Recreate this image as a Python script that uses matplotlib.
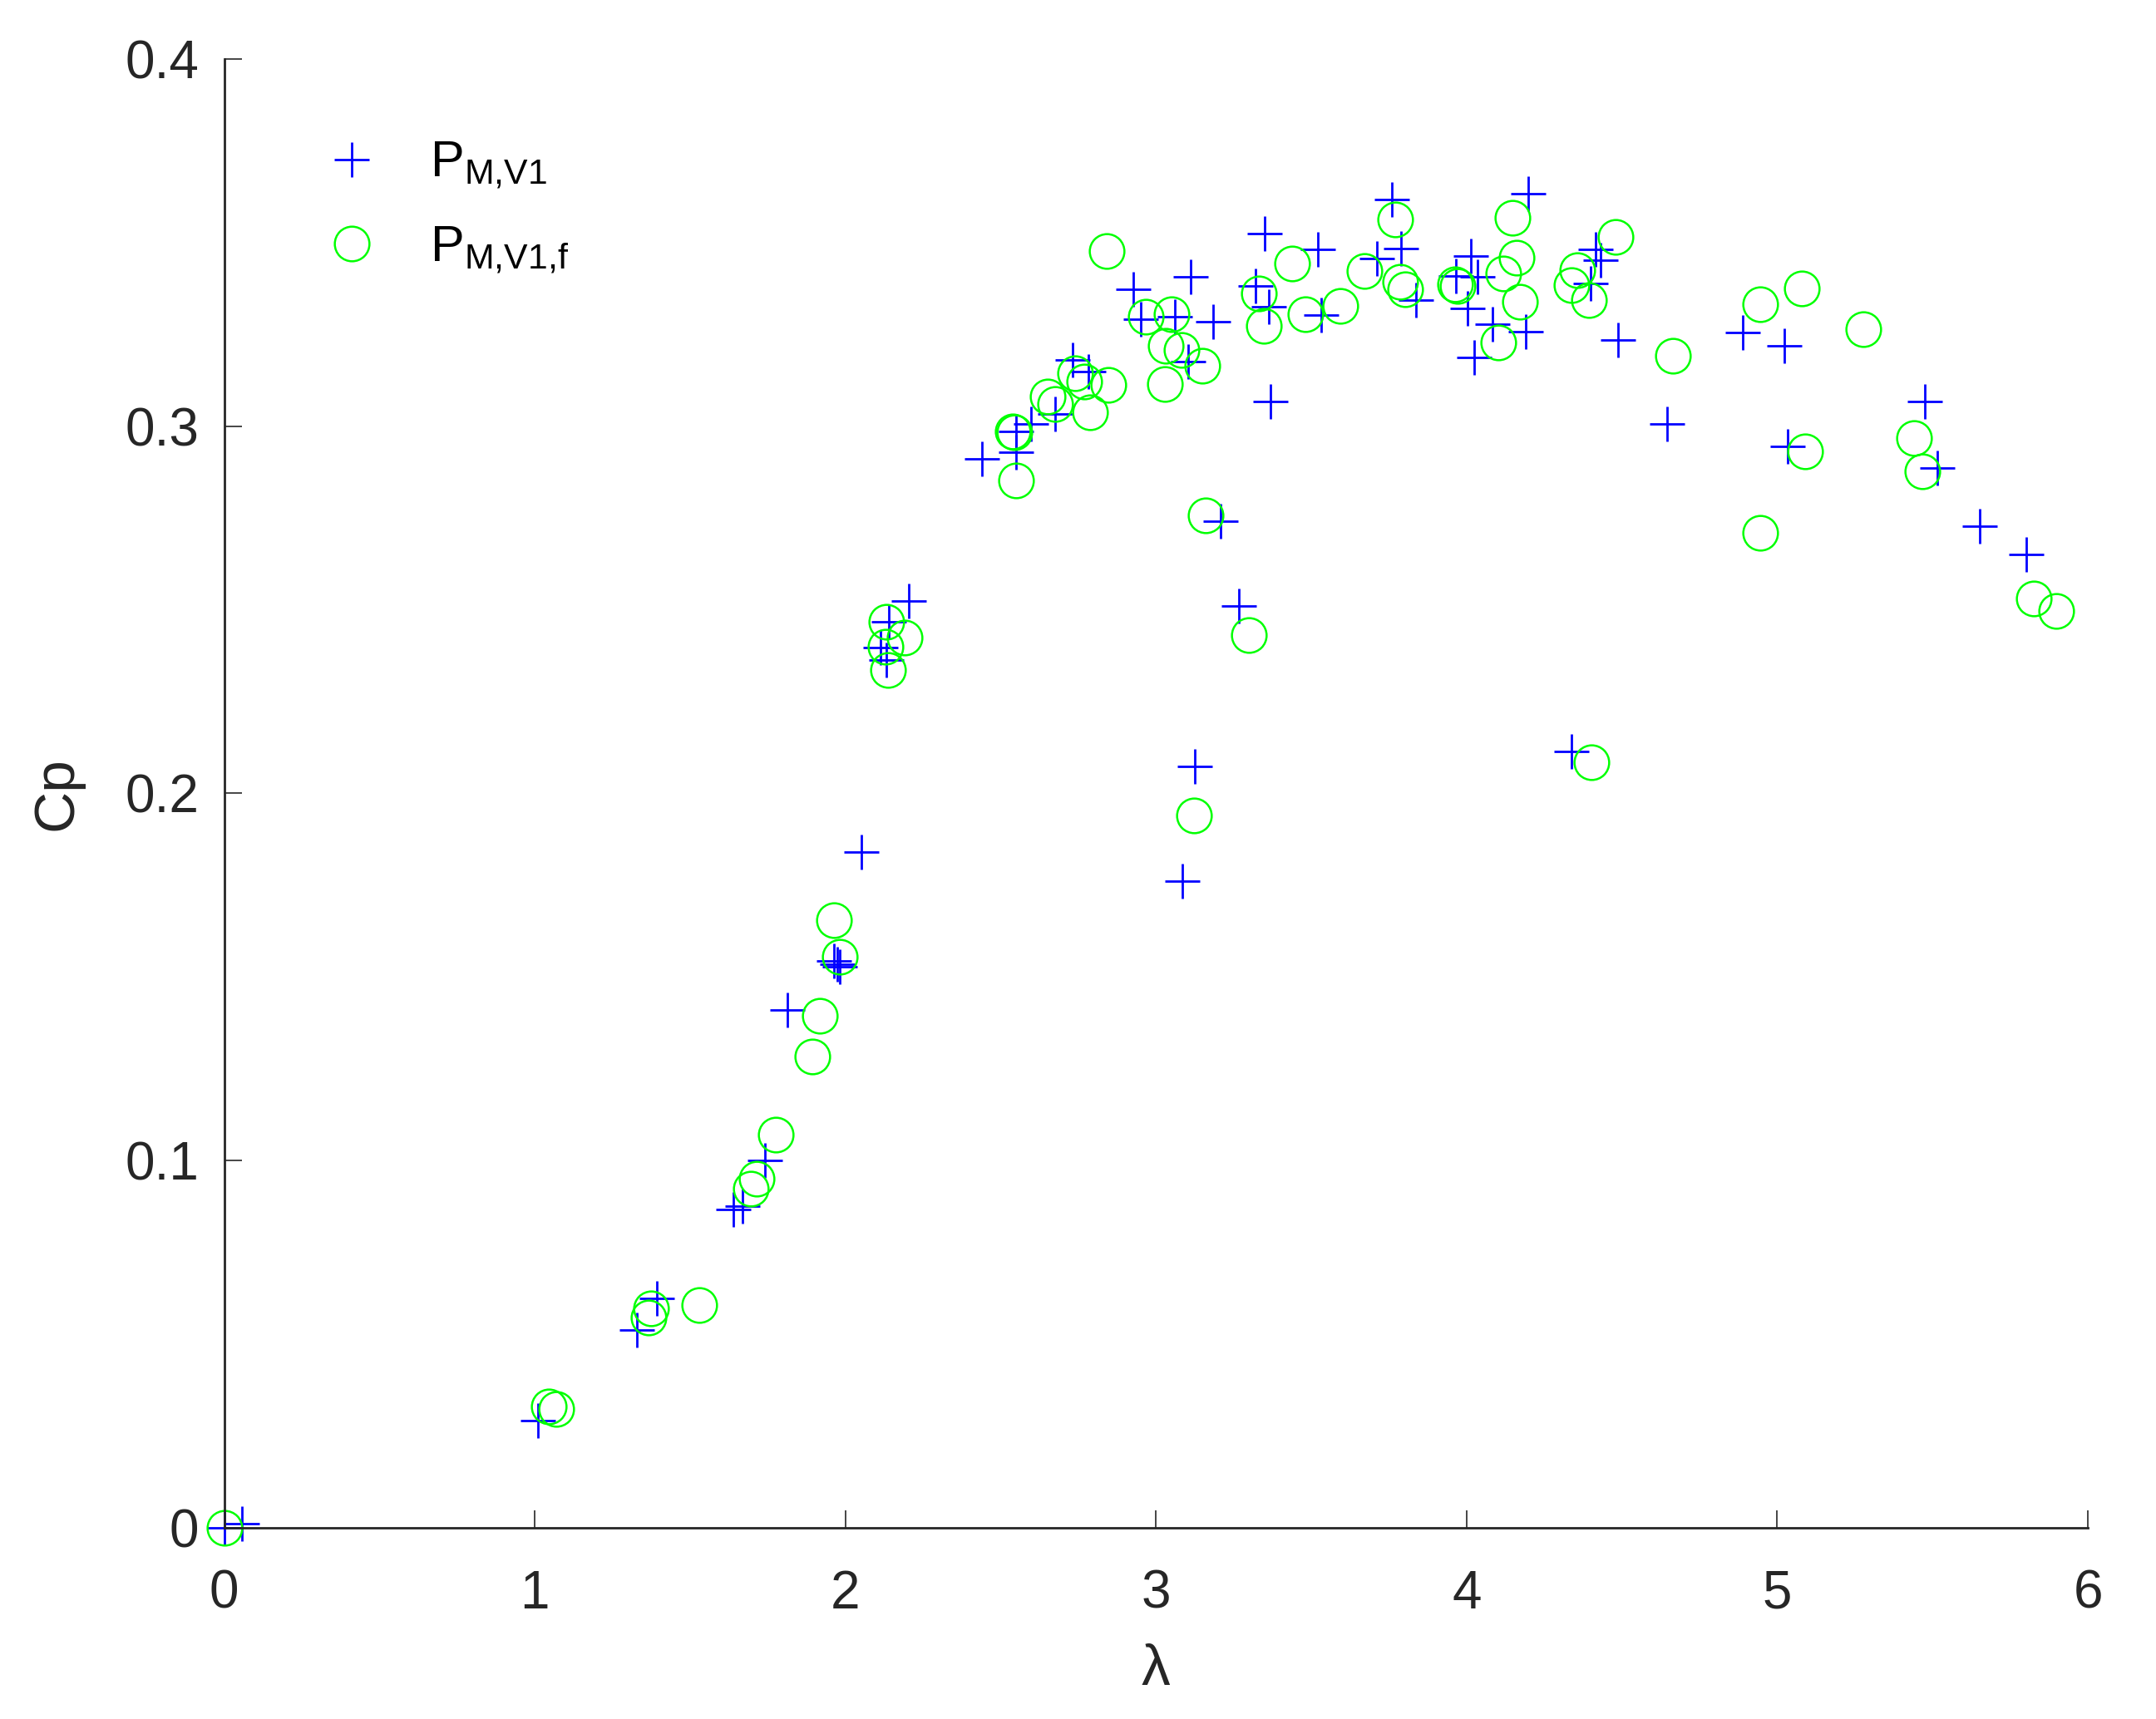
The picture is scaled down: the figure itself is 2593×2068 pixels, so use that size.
import matplotlib
matplotlib.use("Agg")
import matplotlib.pyplot as plt

plt.rcParams['font.family'] = ['Liberation Sans', 'DejaVu Sans']
plt.rcParams['mathtext.fontset'] = 'custom'
plt.rcParams['mathtext.rm'] = 'Liberation Sans'
plt.rcParams['mathtext.it'] = 'Liberation Sans'

# P_M,V1 (blue plus)
lam_v1 = [0.0, 0.058, 1.009, 1.328, 1.392, 1.638, 1.669, 1.740, 1.814, 1.963,
          1.974, 1.982, 2.051, 2.112, 2.132, 2.139, 2.204, 2.440, 2.549, 2.549,
          2.598, 2.676, 2.731, 2.783, 2.926, 2.952, 3.060, 3.085, 3.104, 3.112,
          3.125, 3.185, 3.207, 3.268, 3.321, 3.349, 3.364, 3.369, 3.520, 3.533,
          3.712, 3.760, 3.788, 3.837, 3.965, 4.004, 4.013, 4.023, 4.036, 4.083,
          4.191, 4.197, 4.338, 4.400, 4.416, 4.430, 4.487, 4.646, 4.888, 5.022,
          5.034, 5.474, 5.516, 5.653, 5.803]
cp_v1 = [0.0, 0.001, 0.0291, 0.0538, 0.0624, 0.0867, 0.0875, 0.1001, 0.141, 0.1544,
         0.1534, 0.1527, 0.184, 0.2397, 0.2362, 0.2468, 0.2524, 0.2911, 0.2985, 0.293,
         0.3006, 0.3034, 0.3181, 0.3148, 0.3373, 0.3292, 0.3297, 0.176, 0.3176, 0.3407,
         0.2072, 0.3285, 0.2741, 0.2509, 0.3382, 0.3525, 0.3325, 0.3066, 0.3481, 0.3303,
         0.3457, 0.3618, 0.3484, 0.3344, 0.341, 0.332, 0.3464, 0.3186, 0.3407, 0.3277,
         0.3257, 0.3633, 0.2113, 0.3389, 0.3482, 0.3452, 0.3235, 0.3006, 0.3254, 0.3219,
         0.2944, 0.3068, 0.2886, 0.2727, 0.2651]

# P_M,V1,f (green circle)
lam_v1f = [0.0, 1.046, 1.068, 1.366, 1.374, 1.529, 1.695, 1.715, 1.775, 1.894,
           1.917, 1.963, 1.982, 2.129, 2.133, 2.136, 2.191, 2.539, 2.544, 2.549,
           2.650, 2.676, 2.740, 2.769, 2.787, 2.842, 2.847, 2.966, 3.029, 3.032,
           3.049, 3.082, 3.121, 3.148, 3.159, 3.298, 3.331, 3.346, 3.437, 3.480,
           3.594, 3.670, 3.771, 3.787, 3.801, 3.962, 3.971, 4.102, 4.118, 4.148,
           4.162, 4.172, 4.337, 4.355, 4.393, 4.402, 4.479, 4.665, 4.945, 4.945,
           5.078, 5.089, 5.278, 5.441, 5.466, 5.826, 5.897]
cp_v1f = [0.0, 0.033, 0.0324, 0.0571, 0.0597, 0.0606, 0.0922, 0.095, 0.107, 0.1283,
          0.1394, 0.1654, 0.1554, 0.2399, 0.2468, 0.2336, 0.2423, 0.2986, 0.2984, 0.2852,
          0.308, 0.306, 0.3143, 0.3122, 0.3037, 0.3476, 0.3113, 0.3297, 0.3115, 0.3218,
          0.3304, 0.3208, 0.194, 0.3164, 0.2756, 0.2431, 0.3361, 0.3272, 0.3442, 0.3305,
          0.3328, 0.3422, 0.3562, 0.3394, 0.3373, 0.3386, 0.3381, 0.3227, 0.3416, 0.3568,
          0.3459, 0.3338, 0.3383, 0.3424, 0.3343, 0.2085, 0.3515, 0.3191, 0.3332, 0.2709,
          0.3375, 0.2931, 0.3264, 0.2968, 0.2877, 0.2530, 0.2497]

xticks = [0, 1, 2, 3, 4, 5, 6]
yticks = [0, 0.1, 0.2, 0.3, 0.4]
ytick_labels = ['0', '0.1', '0.2', '0.3', '0.4']

fig = plt.figure(figsize=(25.93, 20.68), dpi=100)
ax = fig.add_axes([0.104, 0.1114, 0.8644, 0.8543])

ax.plot(lam_v1, cp_v1, '+', color=(0, 0, 1), markersize=30, markeredgewidth=2.0,
        clip_on=False, label=r'$\mathrm{P_{M{,}V1}}$')
ax.plot(lam_v1f, cp_v1f, 'o', color=(0, 1, 0), markerfacecolor='none', markersize=30,
        markeredgewidth=1.8, clip_on=False, label=r'$\mathrm{P_{M{,}V1{,}f}}$')

ax.set_xlim(0, 6)
ax.set_ylim(0, 0.4)
ax.set_xticks(xticks)
ax.set_yticks(yticks)
ax.set_yticklabels(ytick_labels)

dark = '#262626'
for side in ['top', 'right']:
    ax.spines[side].set_visible(False)
for side in ['left', 'bottom']:
    ax.spines[side].set_color(dark)
    ax.spines[side].set_linewidth(2.0)
ax.tick_params(direction='in', length=15, width=1.2, color=dark, labelcolor=dark,
               labelsize=46)
ax.tick_params(axis='x', pad=36)
ax.tick_params(axis='y', pad=22)

ax.set_xlabel('λ', fontsize=50, color=dark, labelpad=21)
ax.set_ylabel('Cp', fontsize=50, color=dark, labelpad=36)

ax.legend(loc='upper left', bbox_to_anchor=(0.0233, 0.9756), frameon=False, fontsize=44,
          handletextpad=0.8, labelspacing=0.66, handlelength=1.5, numpoints=1)

fig.savefig('out.png', dpi=100, facecolor='white')
